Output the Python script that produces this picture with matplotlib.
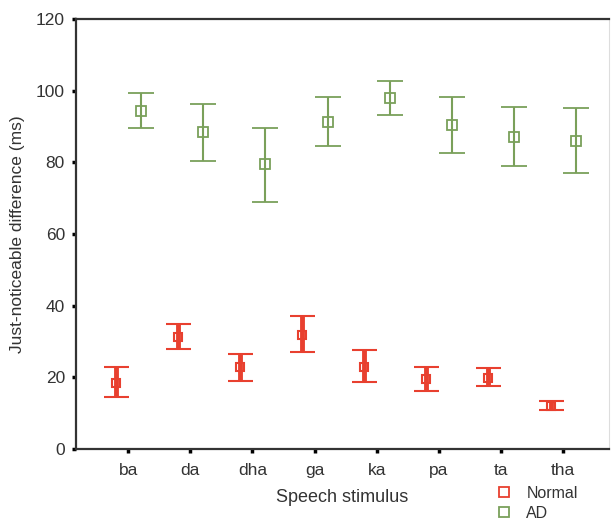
import matplotlib
matplotlib.use("Agg")
import matplotlib.pyplot as plt
from matplotlib.lines import Line2D
import numpy as np

plt.rcParams['font.family'] = ['Liberation Sans', 'DejaVu Sans']

categories = ["ba", "da", "dha", "ga", "ka", "pa", "ta", "tha"]
normal_mean = [18.3, 31.3, 22.8, 31.8, 23.0, 19.4, 19.8, 12.1]
normal_low = [14.5, 27.9, 19.1, 27.2, 18.7, 16.3, 17.6, 10.8]
normal_high = [22.9, 35.0, 26.4, 37.0, 27.6, 22.9, 22.5, 13.4]
ad_mean = [94.4, 88.4, 79.6, 91.2, 98.0, 90.4, 87.2, 86.0]
ad_low = [89.7, 80.5, 69.0, 84.5, 93.2, 82.5, 79.0, 76.9]
ad_high = [99.3, 96.4, 89.7, 98.3, 102.8, 98.3, 95.5, 95.2]

red = "#e8402f"
green = "#7aa05a"
txt = "#333333"

fig = plt.figure(figsize=(6.11, 5.21), dpi=100)
ax = fig.add_axes([76/611, 1-449/521, (609-76)/611, (449-19)/521])

x = np.arange(1, len(categories) + 1)
nm = np.array(normal_mean)
am = np.array(ad_mean)
ax.errorbar(x - 0.2, nm, yerr=[nm - np.array(normal_low), np.array(normal_high) - nm],
            fmt='s', color=red, mfc='none', mec=red, ms=6, mew=1.5,
            elinewidth=3.5, capsize=9, capthick=3.8, zorder=3)
ax.errorbar(x + 0.21, am, yerr=[am - np.array(ad_low), np.array(ad_high) - am],
            fmt='s', color=green, mfc='none', mec=green, ms=7, mew=1.3,
            elinewidth=1.5, capsize=9.5, capthick=1.5, zorder=3)

ax.set_xlim(0.16, 8.74)
ax.set_ylim(0, 120)
ax.set_yticks([0, 20, 40, 60, 80, 100, 120])
ax.set_xticks(x)
ax.set_xticklabels(categories)

for s in ['left', 'bottom', 'top']:
    ax.spines[s].set_color('#333333')
    ax.spines[s].set_linewidth(1.6)
ax.spines['right'].set_color('#dddddd')
ax.spines['right'].set_linewidth(0.8)

ax.tick_params(axis='both', direction='out', length=3, width=2.5, color='black',
               labelsize=12.5, labelcolor=txt)
ax.tick_params(axis='x', pad=7)
ax.tick_params(axis='y', pad=5)

ax.set_ylabel("Just-noticeable difference (ms)", fontsize=12.5, color=txt, labelpad=8)
ax.set_xlabel("Speech stimulus", fontsize=13, color=txt, labelpad=8)

handles = [Line2D([], [], marker='s', ls='none', mfc='none', mec=red, ms=7, mew=1.3),
           Line2D([], [], marker='s', ls='none', mfc='none', mec=green, ms=7, mew=1.3)]
fig.legend(handles, ["Normal", "AD"], loc='upper left', bbox_to_anchor=(488/611, 1-478/521),
           frameon=False, fontsize=11.5, labelcolor=txt, handlelength=1.0,
           handletextpad=0.9, labelspacing=0.3, borderpad=0)

fig.savefig("out.png", dpi=100)
